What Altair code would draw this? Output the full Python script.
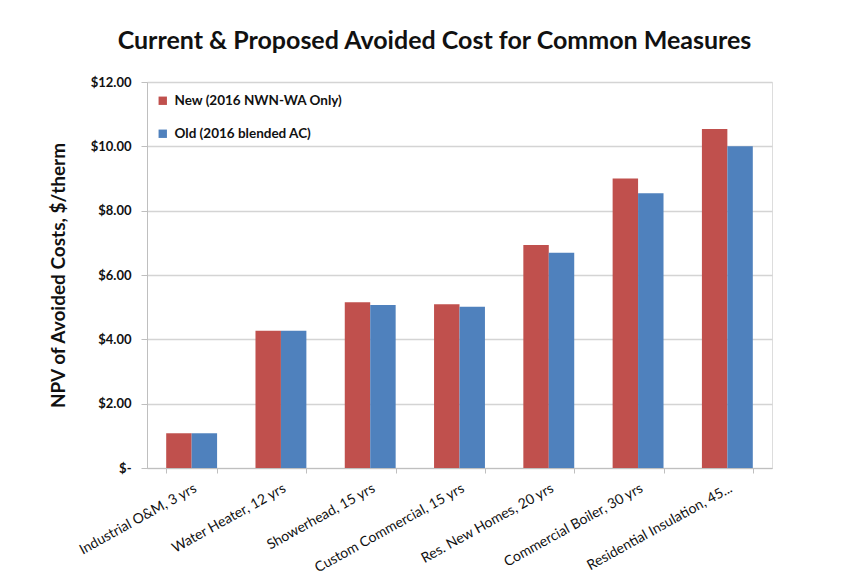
import altair as alt
import pandas as pd

categories = [
    "Industrial O&M, 3 yrs",
    "Water Heater, 12 yrs",
    "Showerhead, 15 yrs",
    "Custom Commercial, 15 yrs",
    "Res. New Homes, 20 yrs",
    "Commercial Boiler, 30 yrs",
    "Residential Insulation, 45...",
]
series = ["New (2016 NWN-WA Only)", "Old (2016 blended AC)"]
new_values = [1.08, 4.27, 5.15, 5.09, 6.93, 9.00, 10.54]
old_values = [1.08, 4.27, 5.07, 5.01, 6.69, 8.54, 10.00]
colors = ["#C0504D", "#4F81BD"]

rows = []
for c, n, o in zip(categories, new_values, old_values):
    rows.append({"measure": c, "series": series[0], "value": n})
    rows.append({"measure": c, "series": series[1], "value": o})
df = pd.DataFrame(rows)

FONT = "Lato"

chart = (
    alt.Chart(df)
    .mark_bar()
    .encode(
        x=alt.X(
            "measure:N",
            sort=categories,
            title=None,
            scale=alt.Scale(paddingInner=0.43, paddingOuter=0.215),
            axis=alt.Axis(
                labelAngle=-29,
                labelAlign="right",
                labelBaseline="top",
                labelFontSize=14,
                labelColor="#111111",
                labelFont=FONT,
                labelPadding=8,
                labelLimit=300,
                tickBand="extent",
                tickColor="#BFBFBF",
                tickSize=5,
                domainColor="#BFBFBF",
                grid=False,
            ),
        ),
        xOffset=alt.XOffset("series:N", sort=series, scale=alt.Scale(paddingInner=0, paddingOuter=0)),
        y=alt.Y(
            "value:Q",
            title="NPV of Avoided Costs, $/therm",
            scale=alt.Scale(domain=[0, 12], nice=False),
            axis=alt.Axis(
                values=[0, 2, 4, 6, 8, 10, 12],
                labelExpr="datum.value == 0 ? '$-' : '$' + format(datum.value, '.2f')",
                labelFontSize=13,
                labelFontWeight="bold",
                labelColor="#111111",
                labelFont=FONT,
                labelPadding=10,
                titleFontSize=19,
                titleFontWeight="bold",
                titleFont=FONT,
                titleColor="#111111",
                titlePadding=22,
                tickColor="#BFBFBF",
                tickSize=6,
                domainColor="#BFBFBF",
                gridColor="#D4D4D4",
                gridWidth=1.5,
            ),
        ),
        color=alt.Color(
            "series:N",
            sort=series,
            scale=alt.Scale(domain=series, range=colors),
            legend=alt.Legend(
                title=None,
                orient="none",
                legendX=9,
                legendY=12,
                symbolType="square",
                symbolSize=70,
                symbolStrokeWidth=0,
                labelFontSize=13.5,
                labelFontWeight="bold",
                labelFont=FONT,
                labelColor="#111111",
                labelLimit=300,
                rowPadding=18,
                labelOffset=5,
            ),
        ),
    )
    .properties(
        width=625,
        height=386,
        title=alt.TitleParams(
            "Current & Proposed Avoided Cost for Common Measures",
            fontSize=25,
            fontWeight="bold",
            font=FONT,
            color="#111111",
            anchor="middle",
            dx=-25,
            offset=22,
        ),
        padding={"left": 147, "top": 82, "right": 75, "bottom": 111},
        autosize=alt.AutoSizeParams(type="none"),
    )
    .configure_view(stroke=None)
    .configure(background="white")
)

chart.save("out.html", embed_options={"renderer": "svg", "actions": False})
